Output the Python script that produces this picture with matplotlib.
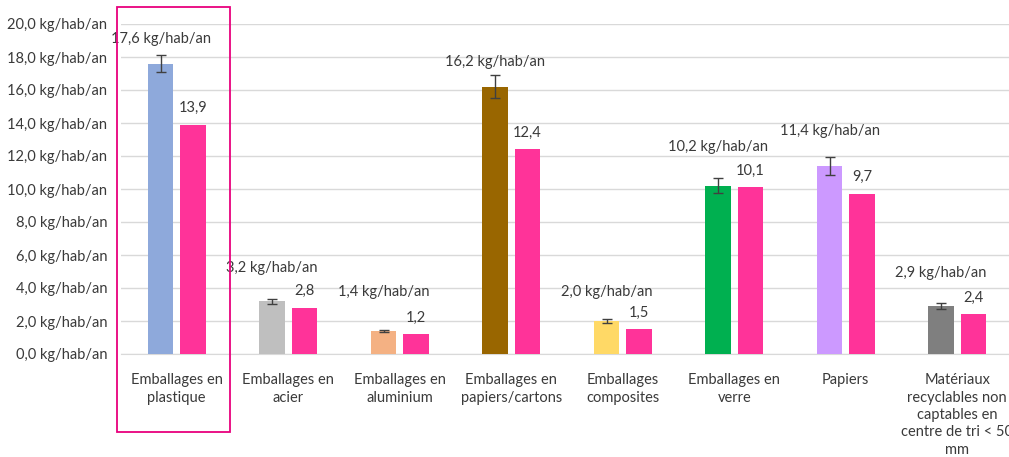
import numpy as np
import matplotlib
matplotlib.use("Agg")
from matplotlib import pyplot as plt
from matplotlib.patches import Rectangle

# Data
categories = [
    "Emballages en\nplastique",
    "Emballages en\nacier",
    "Emballages en\naluminium",
    "Emballages en\npapiers/cartons",
    "Emballages\ncomposites",
    "Emballages en\nverre",
    "Papiers",
    "Matériaux\nrecyclables non\ncaptables en\ncentre de tri < 50\nmm",
]
values_a = [17.6, 3.2, 1.4, 16.2, 2.0, 10.2, 11.4, 2.9]
errors_a = [0.5, 0.15, 0.08, 0.7, 0.1, 0.45, 0.55, 0.2]
values_b = [13.9, 2.8, 1.2, 12.4, 1.5, 10.1, 9.7, 2.4]
colors_a = ["#8EA9DB", "#BFBFBF", "#F4B183", "#996600", "#FFD966",
            "#00B050", "#CC99FF", "#7F7F7F"]
PINK = "#FF3399"

# label offsets above bar top (points) for first series, as laid out in the source
label_off_a = [18, 24, 28, 18, 21, 28, 25, 24]

plt.rcParams['font.family'] = ['Lato', 'DejaVu Sans']

fig = plt.figure(figsize=(10.09, 4.57), dpi=100)
ax = fig.add_axes([121/1009, 1-354/457, 892/1009, 330/457])

x = np.arange(len(categories))
w = 0.23
off = 0.145

ax.bar(x - off, values_a, w, color=colors_a, zorder=3,
       yerr=errors_a, error_kw=dict(ecolor="#404040", elinewidth=1, capsize=3.5, capthick=1))
ax.bar(x + off, values_b, w, color=PINK, zorder=3)

for i in range(len(categories)):
    ax.annotate(f"{values_a[i]:.1f} kg/hab/an".replace(".", ","),
                (x[i] - off, values_a[i]), xytext=(0, label_off_a[i]),
                textcoords="offset points", ha="center", va="center",
                fontsize=10.5, color="#3A3A3A")
    ax.annotate(f"{values_b[i]:.1f}".replace(".", ","),
                (x[i] + off, values_b[i]), xytext=(0, 12),
                textcoords="offset points", ha="center", va="center",
                fontsize=10.5, color="#3A3A3A")

ax.set_xlim(-0.5, len(categories) - 0.5)
ax.set_ylim(0, 20)
ax.set_yticks(np.arange(0, 21, 2))
ax.set_yticklabels([f"{v:.1f} kg/hab/an".replace(".", ",") for v in np.arange(0, 21, 2)],
                   fontsize=10.5, color="#3A3A3A")
ax.set_xticks(x)
ax.set_xticklabels(categories, fontsize=10.5, color="#3A3A3A", linespacing=1.3, va="top")
ax.tick_params(axis="both", length=0)
ax.tick_params(axis="y", pad=10)
ax.tick_params(axis="x", pad=14)
ax.grid(axis="y", color="#D9D9D9", linewidth=1, zorder=0)
for s in ["top", "right", "left"]:
    ax.spines[s].set_visible(False)
ax.spines["bottom"].set_color("#D9D9D9")

# highlight box round the first category
fig.patches.append(Rectangle((117/1009, 1-432/457), 113/1009, 425/457,
                             transform=fig.transFigure, fill=False,
                             edgecolor="#E8007D", linewidth=1.3))

fig.savefig("out.png", dpi=100)
